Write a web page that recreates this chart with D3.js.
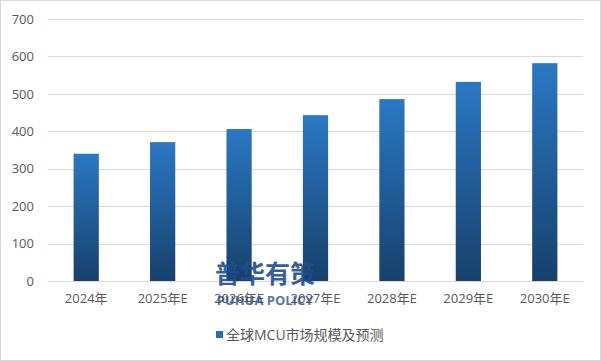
<!DOCTYPE html>
<html>
<head>
<meta charset="utf-8">
<script src="https://cdn.jsdelivr.net/npm/d3@7"></script>
<style>
  body { margin: 0; background: #fff; }
  text { font-family: "Open Sans", "Noto Sans CJK SC", sans-serif; }
</style>
</head>
<body>
<div id="chart"></div>
<script>
// data
var categories = ["2024年", "2025年E", "2026年E", "2027年E", "2028年E", "2029年E", "2030年E"];
var values = [340, 371, 406, 443, 486, 532, 582];
var yTicks = [0, 100, 200, 300, 400, 500, 600, 700];
var seriesName = "全球MCU市场规模及预测";

var svgWidth = 601, svgHeight = 361;
var margin = {top: 19, right: 18, bottom: 80, left: 48};
var width = svgWidth - margin.left - margin.right;
var height = svgHeight - margin.top - margin.bottom;

var svg = d3.select("#chart").append("svg")
    .attr("width", svgWidth)
    .attr("height", svgHeight);

// outer border
svg.append("rect")
    .attr("x", 0.5).attr("y", 0.5)
    .attr("width", svgWidth - 1).attr("height", svgHeight - 1)
    .attr("fill", "none")
    .attr("stroke", "#d9d9d9");

var defs = svg.append("defs");
var grad = defs.append("linearGradient")
    .attr("id", "barGrad")
    .attr("x1", 0).attr("y1", 0).attr("x2", 0).attr("y2", 1);
grad.append("stop").attr("offset", "0%").attr("stop-color", "#2a78c4");
grad.append("stop").attr("offset", "100%").attr("stop-color", "#17406b");

var chartGroup = svg.append("g")
    .attr("transform", `translate(${margin.left}, ${margin.top})`);

var xScale = d3.scaleBand()
    .domain(categories)
    .range([0, width])
    .paddingInner(0.67)
    .paddingOuter(0.335);

var yScale = d3.scaleLinear()
    .domain([0, 700])
    .range([height, 0]);

// gridlines
chartGroup.append("g")
    .selectAll("line")
    .data(yTicks)
    .enter()
    .append("line")
    .attr("x1", 0).attr("x2", width)
    .attr("y1", d => Math.round(yScale(d)) + 0.5)
    .attr("y2", d => Math.round(yScale(d)) + 0.5)
    .attr("stroke", "#d9d9d9");

// y axis labels
var leftAxis = d3.axisLeft(yScale).tickValues(yTicks).tickSize(0).tickPadding(14);
var yAxis = chartGroup.append("g").call(leftAxis);
yAxis.select(".domain").remove();
yAxis.selectAll("text")
    .attr("fill", "#595959")
    .style("font-size", "13px");

// bars
chartGroup.selectAll("rect.bar")
    .data(values)
    .enter()
    .append("rect")
    .attr("class", "bar")
    .attr("x", (d, i) => xScale(categories[i]))
    .attr("y", d => yScale(d))
    .attr("width", xScale.bandwidth())
    .attr("height", d => height - yScale(d))
    .attr("fill", "url(#barGrad)");

// x axis labels
var bottomAxis = d3.axisBottom(xScale).tickSize(0).tickPadding(13);
var xAxis = chartGroup.append("g")
    .attr("transform", `translate(0, ${height})`)
    .call(bottomAxis);
xAxis.select(".domain").remove();
xAxis.selectAll("text")
    .attr("fill", "#595959")
    .style("font-size", "13px");

// watermark
var wm = svg.append("g").attr("opacity", 0.9);
wm.append("text")
    .attr("x", 265).attr("y", 283)
    .attr("text-anchor", "middle")
    .attr("fill", "#1d4f8c")
    .style("font-size", "25px")
    .style("font-weight", "bold")
    .style("font-family", "'Noto Sans CJK SC', sans-serif")
    .text("普华有策");
wm.append("text")
    .attr("x", 265).attr("y", 305)
    .attr("text-anchor", "middle")
    .attr("fill", "#1d4f8c")
    .attr("opacity", 0.85)
    .style("font-size", "13px")
    .style("font-weight", "bold")
    .text("PUHUA POLICY");

// legend
var legend = svg.append("g").attr("transform", "translate(216, 335)");
legend.append("rect")
    .attr("x", 0).attr("y", -4)
    .attr("width", 7).attr("height", 7)
    .attr("fill", "#2a6db3");
legend.append("text")
    .attr("x", 10).attr("y", 0)
    .attr("dy", "0.35em")
    .attr("fill", "#595959")
    .style("font-size", "14px")
    .text(seriesName);
</script>
</body>
</html>
